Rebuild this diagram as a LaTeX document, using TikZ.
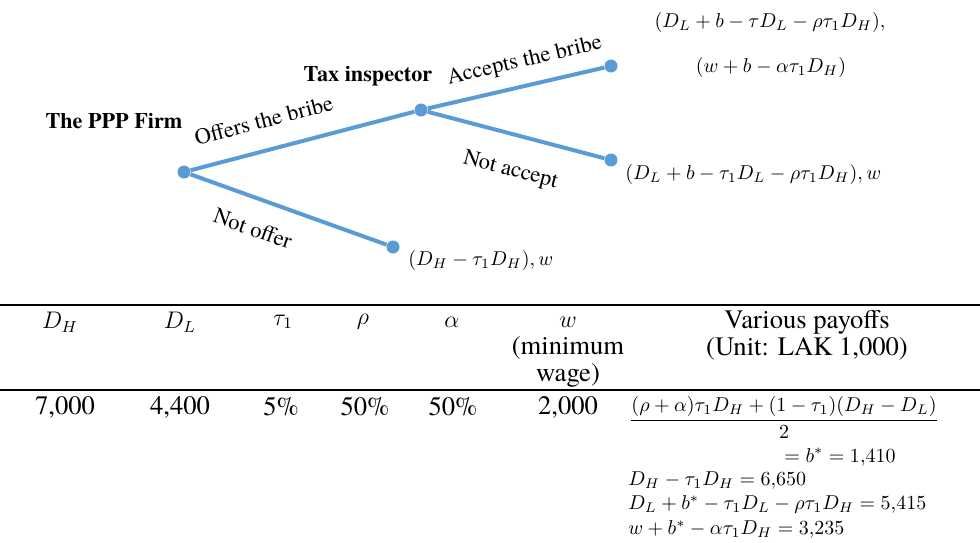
\documentclass[tikz,border=0pt]{standalone}
\usepackage{amsmath}
\usepackage{fontspec}
\setmainfont{texgyretermes}[Extension=.otf, UprightFont=*-regular, BoldFont=*-bold, ItalicFont=*-italic, BoldItalicFont=*-bolditalic]
\definecolor{treeblue}{HTML}{5B9BD5}

\begin{document}
\begin{tikzpicture}[x=0.5pt, y=-0.5pt,
    branch/.style={draw=treeblue, line width=2pt},
    dot/.style={circle, fill=treeblue, inner sep=0pt, minimum size=6.5pt},
    player/.style={font=\fontsize{11.1}{13}\selectfont\bfseries, inner sep=0pt},
    move/.style={font=\fontsize{11.3}{13}\selectfont, sloped, inner sep=0pt},
    payoff/.style={font=\fontsize{10.3}{13}\selectfont, inner sep=0pt},
    cell/.style={font=\fontsize{13.3}{13.5}\selectfont, align=center, inner sep=0pt},
    mathcell/.style={font=\fontsize{10.2}{12}\selectfont, inner sep=0pt},
    headmath/.style={font=\fontsize{11.5}{12}\selectfont, inner sep=0pt},
    tablerule/.style={line width=0.8pt}]

    \useasboundingbox (0,0) rectangle (980,542);

    % Decision nodes
    \node[dot] (firm) at (184,172) {};
    \node[dot] (inspector) at (421,110) {};
    \node[dot] (accept) at (611,66) {};
    \node[dot] (reject) at (611,160) {};
    \node[dot] (nooffer) at (393,247) {};

    % Players
    \node[player] (firmname) at (114,121) {The PPP Firm};
    \node[player] (inspname) at (368,76) {Tax inspector};

    % Branches
    \draw[branch] (firm) -- (inspector) node[move, pos=0.36, above=10pt] {Offers the bribe};
    \draw[branch] (firm) -- (nooffer) node[move, pos=0.37, below=10pt] {Not offer};
    \draw[branch] (inspector) -- (accept) node[move, pos=0.58, above=6pt] {Accepts the bribe};
    \draw[branch] (inspector) -- (reject) node[move, pos=0.52, below=12pt] {Not accept};

    % Payoffs
    \node[payoff] (payacc1) at (770,22) {$(D_L + b - \tau D_L - \rho\tau_1 D_H),$};
    \node[payoff] (payacc2) at (771,67) {$(w + b - \alpha\tau_1 D_H)$};
    \node[payoff, anchor=west] (payrej) at (625,174) {$(D_L + b - \tau_1 D_L - \rho\tau_1 D_H), w$};
    \node[payoff, anchor=west] (paynone) at (408,260) {$(D_H - \tau_1 D_H), w$};

    % Table rules
    \draw[tablerule] (0,305) -- (980,305);
    \draw[tablerule] (0,390) -- (980,390);

    % Header row
    \node[headmath] (hDH) at (60,322) {$D_H$};
    \node[headmath] (hDL) at (180,322) {$D_L$};
    \node[headmath] (htau) at (283,322) {$\tau_1$};
    \node[headmath] (hrho) at (363,322) {$\rho$};
    \node[headmath] (halpha) at (452,322) {$\alpha$};
    \node[headmath] (hw) at (568,322) {$w$};
    \node[cell] (hwage) at (568,362) {(minimum\\wage)};
    \node[cell] (hpay) at (807,335) {Various payoffs\\(Unit: LAK 1,000)};

    % Values
    \node[cell] (vDH) at (65,407) {7,000};
    \node[cell] (vDL) at (180,407) {4,400};
    \node[cell] (vtau) at (281,407) {5\%};
    \node[cell] (vrho) at (365,407) {50\%};
    \node[cell] (valpha) at (453,407) {50\%};
    \node[cell] (vw) at (568,407) {2,000};

    % Various payoffs
    \node[mathcell, anchor=north] (bribe) at (784,396) {$\dfrac{(\rho + \alpha)\tau_1 D_H + (1 - \tau_1)(D_H - D_L)}{2}$};
    \node[mathcell] (bstar) at (840,457) {$= b^* = 1{,}410$};
    \node[mathcell, anchor=west, align=left, font=\fontsize{10.2}{12.2}\selectfont] (payvals) at (628,505)
        {$D_H - \tau_1 D_H = 6{,}650$\\
         $D_L + b^* - \tau_1 D_L - \rho\tau_1 D_H = 5{,}415$\\
         $w + b^* - \alpha\tau_1 D_H = 3{,}235$};

\end{tikzpicture}
\end{document}
